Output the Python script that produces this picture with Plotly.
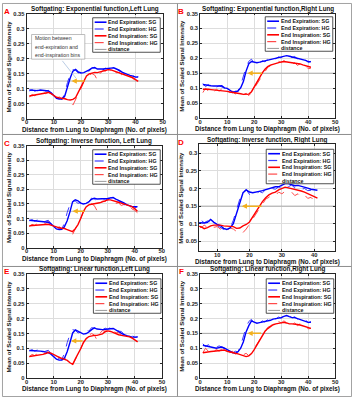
import plotly.graph_objects as go

W, H = 355, 400
FONT = "Liberation Sans, Arial, sans-serif"

# ---------------- data ----------------
x_pixels = list(range(1, 42))

# Hard gating (same for every soft-gating function)
hg_exp_left = [0.092, 0.096, 0.091, 0.095, 0.090, 0.096, 0.091, 0.094, 0.083, 0.070,
               0.062, 0.068, 0.063, 0.085, 0.120, 0.148, 0.163, 0.160, 0.152, 0.155,
               0.150, 0.160, 0.158, 0.170, 0.167, 0.162, 0.167, 0.162, 0.168, 0.164,
               0.171, 0.166, 0.168, 0.158, 0.157, 0.147, 0.149, 0.141, 0.143, 0.137, 0.140]
hg_insp_left = [0.072, 0.080, 0.076, 0.083, 0.078, 0.087, 0.083, 0.090, 0.080, 0.078,
                0.068, 0.072, 0.065, 0.069, 0.060, 0.055, 0.045, 0.062, 0.078, 0.100,
                0.122, 0.138, 0.145, 0.150, 0.145, 0.128, 0.150, 0.160, 0.158, 0.165,
                0.160, 0.162, 0.152, 0.154, 0.145, 0.148, 0.140, 0.143, 0.133, 0.128, 0.120]
hg_exp_right = [0.115, 0.105, 0.112, 0.104, 0.110, 0.103, 0.108, 0.105, 0.100, 0.095,
                0.090, 0.084, 0.090, 0.088, 0.110, 0.140, 0.170, 0.190, 0.197, 0.183,
                0.188, 0.184, 0.192, 0.188, 0.197, 0.193, 0.200, 0.198, 0.205, 0.201,
                0.210, 0.205, 0.210, 0.202, 0.206, 0.198, 0.200, 0.194, 0.195, 0.186, 0.190]
hg_insp_right = [0.085, 0.100, 0.090, 0.098, 0.088, 0.096, 0.090, 0.097, 0.090, 0.092,
                 0.085, 0.090, 0.080, 0.088, 0.085, 0.078, 0.083, 0.075, 0.085, 0.100,
                 0.112, 0.130, 0.142, 0.155, 0.170, 0.175, 0.183, 0.180, 0.190, 0.185,
                 0.192, 0.186, 0.190, 0.180, 0.185, 0.176, 0.182, 0.172, 0.175, 0.165, 0.167]

# Soft gating, per panel
sg_exp_A = [0.095, 0.094, 0.095, 0.093, 0.095, 0.094, 0.093, 0.092, 0.086, 0.075,
            0.067, 0.065, 0.066, 0.075, 0.108, 0.135, 0.158, 0.164, 0.155, 0.152,
            0.153, 0.157, 0.162, 0.168, 0.170, 0.165, 0.164, 0.165, 0.166, 0.166,
            0.168, 0.169, 0.166, 0.161, 0.155, 0.150, 0.147, 0.144, 0.141, 0.139, 0.138]
sg_insp_A = [0.075, 0.077, 0.079, 0.080, 0.081, 0.084, 0.086, 0.087, 0.083, 0.076,
             0.071, 0.069, 0.068, 0.066, 0.063, 0.062, 0.064, 0.070, 0.088, 0.108,
             0.128, 0.142, 0.149, 0.152, 0.154, 0.153, 0.155, 0.158, 0.161, 0.163,
             0.162, 0.159, 0.155, 0.151, 0.149, 0.146, 0.144, 0.141, 0.136, 0.130, 0.124]
sg_exp_B = [0.112, 0.110, 0.109, 0.108, 0.107, 0.106, 0.107, 0.108, 0.101, 0.099,
            0.092, 0.087, 0.087, 0.091, 0.101, 0.122, 0.157, 0.182, 0.189, 0.186,
            0.185, 0.187, 0.189, 0.191, 0.193, 0.195, 0.198, 0.201, 0.203, 0.205,
            0.207, 0.209, 0.207, 0.205, 0.203, 0.201, 0.199, 0.196, 0.193, 0.189, 0.188]
sg_insp_B = [0.096, 0.097, 0.096, 0.095, 0.094, 0.093, 0.093, 0.093, 0.092, 0.089,
             0.087, 0.086, 0.085, 0.083, 0.081, 0.079, 0.079, 0.080, 0.088, 0.105,
             0.120, 0.138, 0.151, 0.163, 0.172, 0.177, 0.180, 0.183, 0.185, 0.188,
             0.189, 0.188, 0.187, 0.185, 0.185, 0.184, 0.181, 0.178, 0.176, 0.174, 0.170]
sg_exp_C = [0.094, 0.093, 0.093, 0.091, 0.090, 0.091, 0.090, 0.087, 0.082, 0.072,
            0.064, 0.062, 0.063, 0.072, 0.092, 0.122, 0.157, 0.164, 0.161, 0.153,
            0.150, 0.152, 0.157, 0.166, 0.170, 0.167, 0.167, 0.169, 0.169, 0.169,
            0.171, 0.172, 0.167, 0.163, 0.159, 0.154, 0.148, 0.144, 0.141, 0.141, 0.141]
sg_insp_C = [0.075, 0.076, 0.077, 0.078, 0.079, 0.080, 0.081, 0.080, 0.077, 0.073,
             0.071, 0.068, 0.067, 0.065, 0.062, 0.058, 0.055, 0.065, 0.079, 0.100,
             0.124, 0.140, 0.147, 0.149, 0.150, 0.152, 0.154, 0.157, 0.161, 0.164,
             0.164, 0.162, 0.159, 0.156, 0.153, 0.150, 0.147, 0.144, 0.141, 0.134, 0.125]
sg_exp_D = [0.105, 0.104, 0.103, 0.103, 0.103, 0.102, 0.104, 0.112, 0.104, 0.098,
            0.095, 0.087, 0.084, 0.088, 0.100, 0.130, 0.163, 0.188, 0.196, 0.190,
            0.188, 0.189, 0.192, 0.194, 0.197, 0.200, 0.203, 0.205, 0.205, 0.210,
            0.214, 0.214, 0.210, 0.208, 0.209, 0.207, 0.204, 0.201, 0.198, 0.196, 0.195]
sg_insp_D = [0.088, 0.090, 0.092, 0.093, 0.092, 0.086, 0.089, 0.094, 0.096, 0.097,
             0.096, 0.094, 0.094, 0.094, 0.092, 0.087, 0.088, 0.094, 0.098, 0.105,
             0.120, 0.135, 0.150, 0.163, 0.174, 0.182, 0.187, 0.190, 0.196, 0.201,
             0.204, 0.202, 0.200, 0.198, 0.197, 0.193, 0.190, 0.186, 0.182, 0.178, 0.173]
sg_exp_E = [0.093, 0.093, 0.092, 0.091, 0.091, 0.090, 0.089, 0.086, 0.081, 0.072,
            0.064, 0.061, 0.061, 0.068, 0.090, 0.120, 0.152, 0.162, 0.158, 0.152,
            0.148, 0.150, 0.155, 0.163, 0.169, 0.165, 0.163, 0.163, 0.164, 0.166,
            0.166, 0.167, 0.162, 0.155, 0.150, 0.146, 0.143, 0.140, 0.138, 0.138, 0.138]
sg_insp_E = [0.073, 0.074, 0.075, 0.076, 0.078, 0.080, 0.083, 0.086, 0.084, 0.079,
             0.075, 0.070, 0.067, 0.064, 0.060, 0.052, 0.047, 0.065, 0.081, 0.100,
             0.120, 0.133, 0.140, 0.143, 0.144, 0.144, 0.146, 0.149, 0.156, 0.159,
             0.157, 0.153, 0.148, 0.146, 0.144, 0.143, 0.141, 0.139, 0.135, 0.128, 0.122]
sg_exp_F = [0.110, 0.108, 0.105, 0.104, 0.102, 0.100, 0.102, 0.104, 0.100, 0.096,
            0.090, 0.085, 0.083, 0.088, 0.100, 0.122, 0.155, 0.176, 0.192, 0.188,
            0.184, 0.186, 0.188, 0.189, 0.190, 0.194, 0.198, 0.199, 0.200, 0.203,
            0.207, 0.210, 0.206, 0.203, 0.203, 0.200, 0.197, 0.193, 0.189, 0.187, 0.187]
sg_insp_F = [0.085, 0.087, 0.088, 0.089, 0.090, 0.091, 0.092, 0.093, 0.094, 0.090,
             0.087, 0.085, 0.083, 0.081, 0.078, 0.075, 0.072, 0.074, 0.082, 0.095,
             0.111, 0.128, 0.144, 0.157, 0.166, 0.173, 0.179, 0.182, 0.184, 0.186,
             0.187, 0.185, 0.182, 0.182, 0.182, 0.180, 0.178, 0.175, 0.172, 0.169, 0.167]

panel_letters = ["A", "B", "C", "D", "E", "F"]
panel_titles = ["Softgating: Exponential function,Left Lung",
                "Softgating: Exponential function,Right Lung",
                "Softgating: Inverse function, Left Lung",
                "Softgating: Inverse function, Right Lung",
                "Softgating: Linear function,Left Lung",
                "Softgating: Linear function,Right Lung"]
sg_exp = [sg_exp_A, sg_exp_B, sg_exp_C, sg_exp_D, sg_exp_E, sg_exp_F]
sg_insp = [sg_insp_A, sg_insp_B, sg_insp_C, sg_insp_D, sg_insp_E, sg_insp_F]
hg_exp = [hg_exp_left, hg_exp_right] * 3
hg_insp = [hg_insp_left, hg_insp_right] * 3
distance_level = [0.125, 0.15, 0.125, 0.15, 0.125, 0.15]
distance_x = [0, 50]
arrow_start = [16.5, 17.5, 17.0, 17.6, 16.4, 17.5]
arrow_end = [21.8, 23.4, 22.0, 24.2, 21.2, 23.1]
legend_labels = ["End Expiration: SG", "End Expiration: HG",
                 "End Inspiration: SG", "End Inspiration: HG", "distance"]
x_title = "Distance from Lung to Diaphragm (No. of pixels)"
y_title = "Mean of Scaled Signal Intensity"
x_ranges = [[0, 50], [0, 50], [0, 50], [4.45, 46.5], [0, 50], [0, 50]]
y_ranges = [[0, 0.35], [0, 0.35], [0, 0.35], [0.022, 0.326], [0, 0.35], [0, 0.35]]
y_tick_start = [0, 0, 0, 0.05, 0, 0]
annotation_lines = ["Motion between", "end-expiration and", "end-inspiration bins"]

# ---------------- layout geometry (page pixels) ----------------
axes_box = [(25, 10.7, 163, 117.3), (201, 10.7, 338, 116.7),
            (25, 145, 162, 248.3), (200, 143.3, 338, 252),
            (25, 275, 162.3, 381), (201, 275, 338, 380.7)]
legend_box = [(92, 15), (267, 14), (92, 149), (268, 148.5), (92.7, 280), (268, 280)]
panel_rects = [(0.5, 0.5, 178, 133.5), (178, 0.5, 354.5, 133.5),
               (0.5, 133.5, 178, 267.5), (178, 133.5, 354.5, 267.5),
               (0.5, 267.5, 178, 399.5), (178, 267.5, 354.5, 399.5)]


def px(x):
    return x / W


def py(y):
    return 1 - y / H


BLUE, BLUE_D = "#0000FF", "#3A3AFF"
RED, RED_D = "#FF0000", "#FF4A4A"
GRAY = "#9A9A9A"
ARROW = "#F2B01E"
AX = "#262626"

fig = go.Figure()
shapes, annots = [], []
styles = [dict(color=BLUE, width=1.4), dict(color=BLUE_D, width=1.0, dash="dash"),
          dict(color=RED, width=1.4), dict(color=RED_D, width=1.0, dash="dash"),
          dict(color=GRAY, width=0.8)]

for i in range(6):
    n = "" if i == 0 else str(i + 1)
    xr, yr = "x" + n, "y" + n
    x0, y0, x1, y1 = axes_box[i]
    series = [sg_exp[i], hg_exp[i], sg_insp[i], hg_insp[i]]
    fig.add_trace(go.Scatter(x=distance_x, y=[distance_level[i]] * 2, mode="lines",
                             line=styles[4], xaxis=xr, yaxis=yr, showlegend=False,
                             name=legend_labels[4]))
    for k in [1, 3, 0, 2]:
        fig.add_trace(go.Scatter(x=x_pixels, y=series[k], mode="lines", line=styles[k],
                                 xaxis=xr, yaxis=yr, showlegend=False,
                                 name=legend_labels[k]))
    tick_font = dict(family=FONT, size=5.8, color=AX, weight="bold")
    fig.update_layout(**{
        "xaxis" + n: dict(domain=[px(x0), px(x1)], range=x_ranges[i], anchor=yr,
                          dtick=10, tick0=0, ticks="inside", ticklen=2, tickcolor=AX,
                          showline=True, linecolor=AX, linewidth=0.8, mirror="ticks",
                          showgrid=True, gridcolor="#DDDDDD", gridwidth=0.7,
                          zeroline=False, tickfont=tick_font, ticklabelstandoff=-2),
        "yaxis" + n: dict(domain=[py(y1), py(y0)], range=y_ranges[i], anchor=xr,
                          dtick=0.05, tick0=y_tick_start[i], ticks="inside", ticklen=2,
                          tickcolor=AX, showline=True, linecolor=AX, linewidth=0.8,
                          mirror="ticks", showgrid=True, gridcolor="#DDDDDD",
                          gridwidth=0.7, zeroline=False, tickfont=tick_font),
    })
    cx = (x0 + x1) / 2
    annots.append(dict(x=px(cx), y=py(y0 - 4.6), xref="paper", yref="paper",
                       text=panel_titles[i], showarrow=False, xanchor="center",
                       yanchor="middle",
                       font=dict(family=FONT, size=6.3, color="#111", weight="bold")))
    annots.append(dict(x=px(cx), y=py(y1 + 11.3), xref="paper", yref="paper",
                       text=x_title, showarrow=False, xanchor="center", yanchor="middle",
                       borderpad=0,
                       font=dict(family=FONT, size=6.3, color="#111", weight="bold")))
    annots.append(dict(x=px(x0 - 18.5), y=py((y0 + y1) / 2), xref="paper", yref="paper",
                       text=y_title, showarrow=False, textangle=-90, xanchor="center",
                       yanchor="middle",
                       font=dict(family=FONT, size=6.1, color="#111", weight="bold")))
    lx_letter = 5 if i % 2 == 0 else 182
    annots.append(dict(x=px(lx_letter), y=py(y0 - 2), xref="paper", yref="paper",
                       text=panel_letters[i], showarrow=False, xanchor="center",
                       yanchor="middle",
                       font=dict(family=FONT, size=8, color="#FF0000", weight="bold")))
    annots.append(dict(x=arrow_start[i], y=distance_level[i], ax=arrow_end[i],
                       ay=distance_level[i], xref=xr, yref=yr, axref=xr, ayref=yr,
                       text="", showarrow=True, arrowhead=2, arrowsize=0.7,
                       arrowwidth=1.5, arrowcolor=ARROW, arrowside="end"))
    lx, ly = legend_box[i]
    shapes.append(dict(type="rect", xref="paper", yref="paper", x0=px(lx), x1=px(lx + 68.5),
                       y0=py(ly + 35), y1=py(ly), line=dict(color=AX, width=0.8),
                       fillcolor="white", layer="above"))
    for k in range(5):
        ry = ly + 4.5 + 6.9 * k
        st = styles[k]
        shapes.append(dict(type="line", xref="paper", yref="paper", x0=px(lx + 2),
                           x1=px(lx + 14), y0=py(ry), y1=py(ry),
                           line=dict(color=st["color"], width=st["width"] + 0.2,
                                     dash=st.get("dash", "solid")), layer="above"))
        annots.append(dict(x=px(lx + 14.5), y=py(ry), xref="paper", yref="paper",
                           text=legend_labels[k], showarrow=False, xanchor="left",
                           yanchor="middle", borderpad=0,
                           font=dict(family=FONT, size=5.3, color="#111", weight="bold")))
    r = panel_rects[i]
    shapes.append(dict(type="rect", xref="paper", yref="paper", x0=px(r[0]), x1=px(r[2]),
                       y0=py(r[3]), y1=py(r[1]), line=dict(color="#8C8C8C", width=0.8),
                       layer="above"))

shapes.append(dict(type="rect", xref="paper", yref="paper", x0=px(30), x1=px(84),
                   y0=py(57), y1=py(32), line=dict(color="#A0A0A0", width=0.7),
                   fillcolor="white", layer="above"))
for j, t in enumerate(annotation_lines):
    annots.append(dict(x=px(32), y=py(36 + 8.2 * j), xref="paper", yref="paper", text=t,
                       showarrow=False, xanchor="left", yanchor="middle", borderpad=0,
                       font=dict(family=FONT, size=5.2, color="#333")))
annots.append(dict(x=18.2, y=0.134, xref="x", yref="y", ax=-15, ay=-19, text="",
                   showarrow=True, arrowhead=0, arrowwidth=0.7, arrowcolor="#9DB8DA"))

fig.update_layout(width=W, height=H, margin=dict(l=0, r=0, t=0, b=0),
                  paper_bgcolor="white", plot_bgcolor="white", showlegend=False,
                  shapes=shapes, annotations=annots)
fig.write_html("out.html", config={"displayModeBar": False},
               post_script="document.body.style.margin='0px';document.body.style.padding='0px';")
